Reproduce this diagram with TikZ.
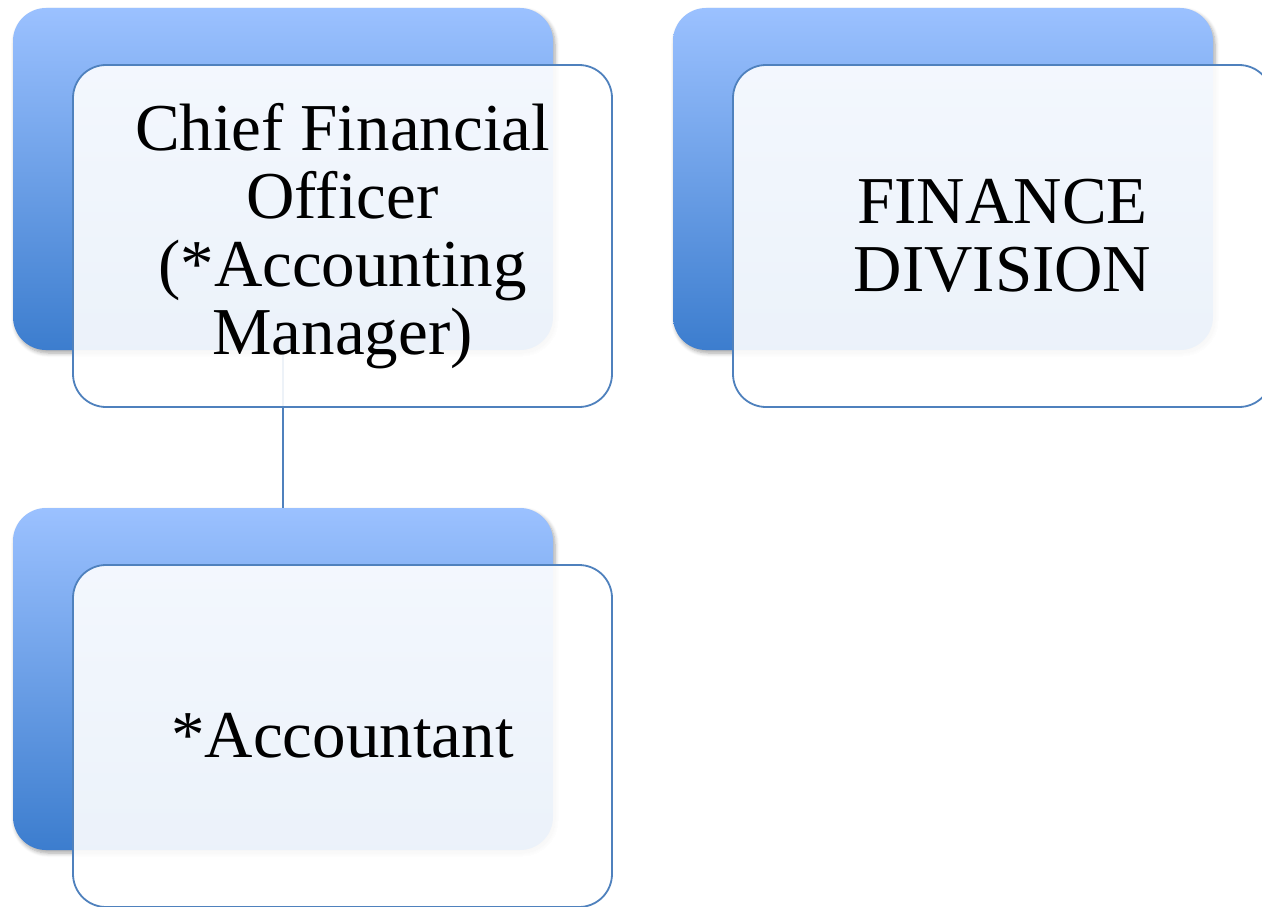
\documentclass[tikz,border=0pt]{standalone}
\usepackage{fontspec}
\setmainfont{Liberation Serif}
\usetikzlibrary{shadows.blur}
\definecolor{bluetop}{HTML}{9BC1FF}
\definecolor{bluebot}{HTML}{3C7DCE}
\definecolor{frontline}{HTML}{4F81BD}
\tikzset{
  backbox/.style={rectangle, rounded corners=33pt, minimum width=540pt, minimum height=342pt,
    inner sep=0pt, top color=bluetop, bottom color=bluebot, draw=none,
    blur shadow={shadow xshift=2pt, shadow yshift=-3pt, shadow blur steps=6, shadow opacity=35, shadow blur radius=4pt}},
  frontbox/.style={rectangle, rounded corners=33pt, minimum width=539pt, minimum height=342pt,
    inner sep=0pt, fill=white, fill opacity=0.9, text opacity=1, draw=frontline, draw opacity=1,
    line width=1.8pt, align=center, font=\fontsize{67}{68}\selectfont},
  conn/.style={draw=frontline, line width=1.6pt}
}
\begin{document}
\begin{tikzpicture}[x=1pt,y=-1pt]
\useasboundingbox (0,0) rectangle (1262,907);
\clip (0,0) rectangle (1262,907);
% back boxes
\node[backbox] (b1) at (283,179) {};
\node[backbox] (b2) at (283,679) {};
\node[backbox] (b3) at (943,179) {};
% connector
\coordinate (c1) at (283,340);
\draw[conn] (c1) -- (b2.north);
% front boxes
\node[frontbox] (f1) at (342.5,236) {Chief Financial\\Officer\\(*Accounting\\Manager)};
\node[frontbox] (f2) at (342.5,736) {*Accountant};
\node[frontbox] (f3) at (1002.5,236) {FINANCE\\DIVISION};
\end{tikzpicture}
\end{document}
